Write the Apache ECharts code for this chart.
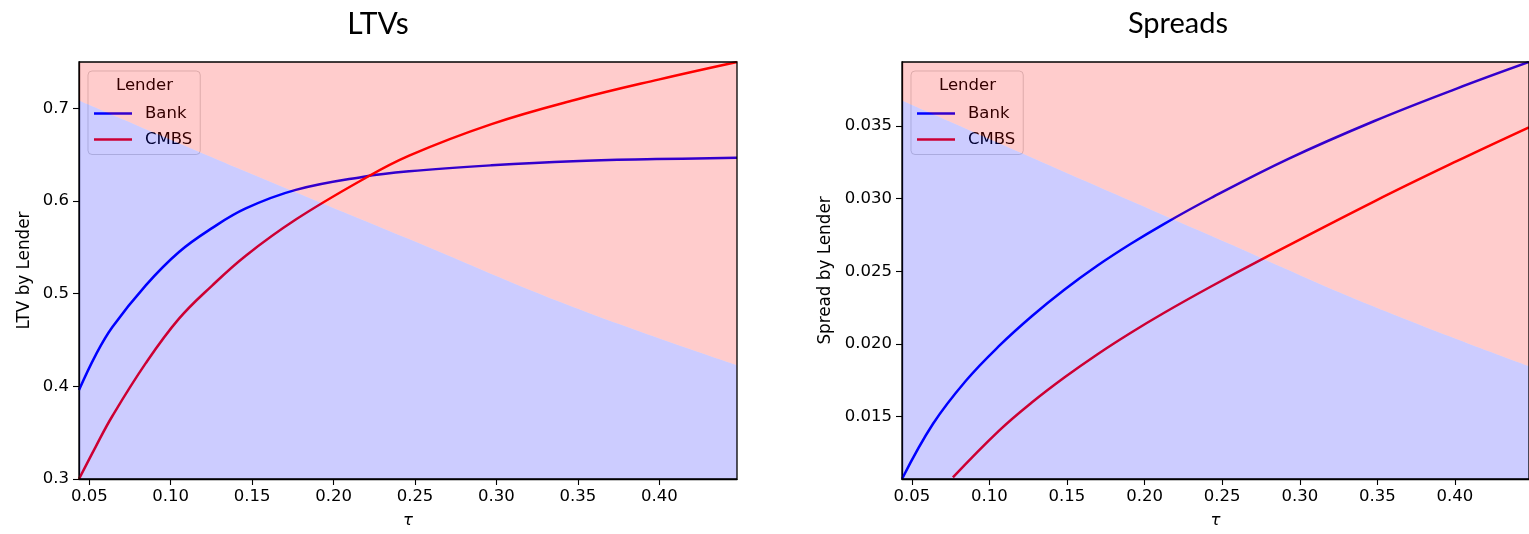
<!DOCTYPE html>
<html>
<head>
<meta charset="utf-8">
<script src="https://cdn.jsdelivr.net/npm/echarts@6/dist/echarts.min.js"></script>
<style>
html,body{margin:0;padding:0;background:#fff;}
#chart{width:1529px;height:534px;}
</style>
</head>
<body>
<div id="chart"></div>
<script>
// ---------- data ----------
const xTicks = [0.05, 0.10, 0.15, 0.20, 0.25, 0.30, 0.35, 0.40];
const ltvTicks = [0.3, 0.4, 0.5, 0.6, 0.7];
const spreadTicks = [0.015, 0.020, 0.025, 0.030, 0.035];

// LTVs panel
const ltvBankTau = [0.0437, 0.054, 0.0642, 0.0847, 0.1051, 0.1256, 0.1461, 0.1768, 0.2177, 0.2464, 0.297, 0.347, 0.398, 0.4477];
const ltvBank    = [0.396, 0.434, 0.464, 0.509, 0.545, 0.571, 0.592, 0.612, 0.626, 0.632, 0.6385, 0.643, 0.6452, 0.6466];
const ltvCmbsTau = [0.0437, 0.054, 0.0642, 0.0847, 0.1051, 0.1256, 0.1461, 0.1768, 0.2177, 0.2464, 0.297, 0.348, 0.3994, 0.4477];
const ltvCmbs    = [0.300, 0.335, 0.368, 0.425, 0.473, 0.509, 0.541, 0.580, 0.623, 0.649, 0.683, 0.709, 0.731, 0.750];
const ltvSplitTau = [0.0437, 0.145, 0.2464, 0.3471, 0.4477];
const ltvSplit    = [0.7085, 0.6327, 0.5589, 0.4855, 0.4228];

// Spreads panel
const spBankTau = [0.0437, 0.0637, 0.085, 0.1061, 0.1273, 0.1485, 0.1697, 0.1909, 0.2121, 0.2428, 0.293, 0.3481, 0.4011, 0.4477];
const spBank    = [0.0107, 0.0145, 0.01748, 0.01984, 0.0219, 0.02374, 0.02539, 0.02687, 0.02823, 0.03004, 0.03275, 0.03534, 0.03757, 0.0394];
const spCmbsTau = [0.0765, 0.1061, 0.1273, 0.1485, 0.1697, 0.1909, 0.2121, 0.2428, 0.2761, 0.3481, 0.4011, 0.4477];
const spCmbs    = [0.01081, 0.01401, 0.01596, 0.0177, 0.01929, 0.02075, 0.02211, 0.02395, 0.02585, 0.02981, 0.03257, 0.0349];
const spSplitTau = [0.0437, 0.1422, 0.2428, 0.3481, 0.4477];
const spSplit    = [0.03675, 0.03213, 0.02745, 0.02255, 0.01846];

const TAU_MIN = 0.0437, TAU_MAX = 0.4477;
const LTV_MIN = 0.3, LTV_MAX = 0.75;
const SP_MIN = 0.0107, SP_MAX = 0.0394;

// ---------- helpers ----------
const zip = (a, b) => a.map((v, i) => [v, b[i]]);
const FONT = "'DejaVu Sans', sans-serif";
const FS = 16.5;

function xAxisCfg(gridIndex) {
  return {
    type: 'value', gridIndex, min: TAU_MIN, max: TAU_MAX,
    name: 'τ', nameLocation: 'middle', nameGap: 33,
    nameTextStyle: { fontFamily: FONT, fontSize: FS, fontStyle: 'italic', color: '#000' },
    axisLine: { show: true, onZero: false, lineStyle: { color: '#000', width: 1.3 } },
    axisTick: { show: true, length: 6, inside: false, customValues: xTicks, lineStyle: { color: '#000', width: 1.1 } },
    axisLabel: { customValues: xTicks, formatter: v => v.toFixed(2), fontFamily: FONT, fontSize: FS, color: '#000', margin: 9 },
    splitLine: { show: false }
  };
}
function yAxisCfg(gridIndex, min, max, ticks, dec, name, gap) {
  return {
    type: 'value', gridIndex, min, max,
    name, nameLocation: 'middle', nameGap: gap,
    nameTextStyle: { fontFamily: FONT, fontSize: 16.8, color: '#000' },
    axisLine: { show: true, onZero: false, lineStyle: { color: '#000', width: 1.3 } },
    axisTick: { show: true, length: 6, inside: false, customValues: ticks, lineStyle: { color: '#000', width: 1.1 } },
    axisLabel: { customValues: ticks, formatter: v => v.toFixed(dec), fontFamily: FONT, fontSize: FS, color: '#000', margin: 10 },
    splitLine: { show: false }
  };
}
function lineSeries(name, xi, tau, vals, color) {
  return {
    name, type: 'line', xAxisIndex: xi, yAxisIndex: xi,
    data: zip(tau, vals), smooth: 0.4,
    symbol: 'none', showSymbol: false, clip: true,
    lineStyle: { color, width: 2.5 }, itemStyle: { color },
    z: 2, silent: true
  };
}
function areaSeries(xi, tau, vals, color, origin) {
  return {
    type: 'line', xAxisIndex: xi, yAxisIndex: xi,
    data: zip(tau, vals), smooth: 0.4,
    symbol: 'none', showSymbol: false, clip: true,
    lineStyle: { width: 0, opacity: 0 },
    areaStyle: { color, opacity: 0.2, origin },
    z: 6, silent: true, legendHoverLink: false
  };
}
function legendCfg(left) {
  return {
    orient: 'vertical', left, top: 71, z: 1,
    data: ['Bank', 'CMBS'],
    icon: 'rect', itemWidth: 38, itemHeight: 2.5, itemGap: 6,
    padding: [32.5, 8, 5, 6],
    backgroundColor: 'rgba(255,255,255,0.8)',
    borderColor: 'rgba(204,204,204,0.8)', borderWidth: 1, borderRadius: 4,
    textStyle: { fontFamily: FONT, fontSize: FS, color: '#000', padding: [0, 0, 0, 8], lineHeight: 20 },
    selectedMode: false
  };
}

const chart = echarts.init(document.getElementById('chart'), null, { renderer: 'canvas' });
chart.setOption({
  animation: false,
  backgroundColor: '#fff',
  title: [
    { text: 'LTVs', left: 373, top: 4, textAlign: 'center',
      textStyle: { fontFamily: "Lato, sans-serif", fontWeight: 'normal', fontSize: 30, color: '#000' } },
    { text: 'Spreads', left: 1173, top: 4, textAlign: 'center',
      textStyle: { fontFamily: "Lato, sans-serif", fontWeight: 'normal', fontSize: 29, color: '#000' } }
  ],
  grid: [
    { left: 79, top: 62, width: 658, height: 419, show: true, borderColor: '#000', borderWidth: 1.3, backgroundColor: 'transparent', z: 10 },
    { left: 902, top: 62, width: 635, height: 419, show: true, borderColor: '#000', borderWidth: 1.3, backgroundColor: 'transparent', z: 10 }
  ],
  xAxis: [xAxisCfg(0), xAxisCfg(1)],
  yAxis: [
    yAxisCfg(0, LTV_MIN, LTV_MAX, ltvTicks, 1, 'LTV by Lender', 46),
    yAxisCfg(1, SP_MIN, SP_MAX, spreadTicks, 3, 'Spread by Lender', 68)
  ],
  legend: [legendCfg(88), legendCfg(911)],
  graphic: [
    { type: 'text', left: 116, top: 77, z: 1, style: { text: 'Lender', fontFamily: FONT, fontSize: FS, fill: '#000' } },
    { type: 'text', left: 939, top: 77, z: 1, style: { text: 'Lender', fontFamily: FONT, fontSize: FS, fill: '#000' } }
  ],
  series: [
    lineSeries('Bank', 0, ltvBankTau, ltvBank, '#0000ff'),
    lineSeries('CMBS', 0, ltvCmbsTau, ltvCmbs, '#ff0000'),
    areaSeries(0, ltvSplitTau, ltvSplit, '#0000ff', 'start'),
    areaSeries(0, ltvSplitTau, ltvSplit, '#ff0000', 'end'),
    lineSeries('Bank', 1, spBankTau, spBank, '#0000ff'),
    lineSeries('CMBS', 1, spCmbsTau, spCmbs, '#ff0000'),
    areaSeries(1, spSplitTau, spSplit, '#0000ff', 'start'),
    areaSeries(1, spSplitTau, spSplit, '#ff0000', 'end')
  ]
});
</script>
</body>
</html>
